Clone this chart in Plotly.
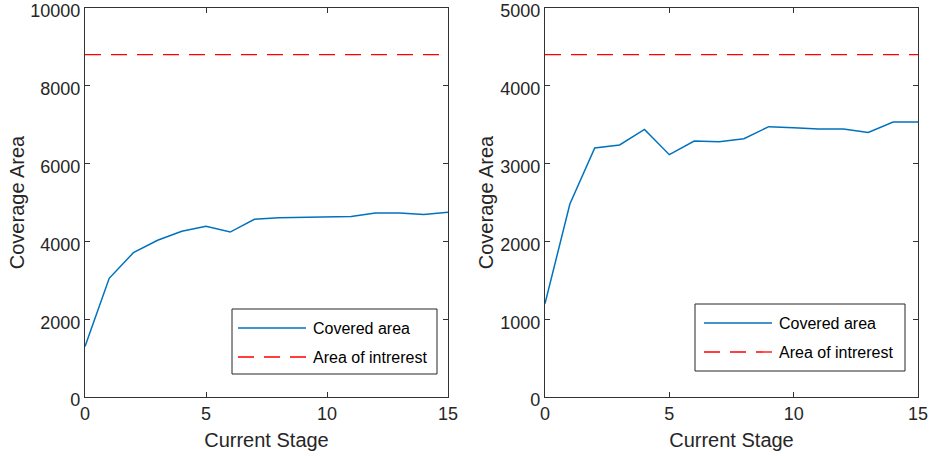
import plotly.graph_objects as go

stages = list(range(16))
left_covered = [1300, 3050, 3710, 4030, 4260, 4390, 4240, 4570, 4610, 4620, 4640, 4640, 4730, 4730, 4690, 4750]
left_aoi = 8800
right_covered = [1200, 2480, 3200, 3240, 3440, 3115, 3290, 3280, 3320, 3475, 3460, 3445, 3445, 3400, 3535, 3535]
right_aoi = 4400

left_yticks = [0, 2000, 4000, 6000, 8000, 10000]
right_yticks = [0, 1000, 2000, 3000, 4000, 5000]
xticks = [0, 5, 10, 15]
legend_names = ["Covered area", "Area of intrerest"]

BLUE = "#0072BD"
RED = "#FF0000"
AX = "#262626"
FONT = "Liberation Sans, Arial, sans-serif"
W, H = 932, 456
DASH = "16px,10px"


def px(x):
    return x / W


def py(y):
    return 1 - y / H


fig = go.Figure()
fig.add_trace(go.Scatter(x=stages, y=left_covered, mode="lines", name=legend_names[0],
                         line=dict(color=BLUE, width=1.5), xaxis="x", yaxis="y"))
fig.add_trace(go.Scatter(x=[stages[0], stages[-1]], y=[left_aoi, left_aoi], mode="lines",
                         name=legend_names[1], line=dict(color=RED, width=1.3, dash=DASH),
                         xaxis="x", yaxis="y"))
fig.add_trace(go.Scatter(x=stages, y=right_covered, mode="lines", name=legend_names[0],
                         line=dict(color=BLUE, width=1.5), xaxis="x2", yaxis="y2"))
fig.add_trace(go.Scatter(x=[stages[0], stages[-1]], y=[right_aoi, right_aoi], mode="lines",
                         name=legend_names[1], line=dict(color=RED, width=1.3, dash=DASH),
                         xaxis="x2", yaxis="y2"))

axis_common = dict(showline=True, linecolor="#333333", linewidth=1.3, mirror="ticks", ticks="inside",
                   ticklen=5, tickcolor="#333333", tickwidth=1, showgrid=False, zeroline=False,
                   automargin=False, ticklabeloverflow="allow",
                   tickfont=dict(family=FONT, size=18, color=AX))
title_font = dict(family=FONT, size=20, color=AX)

# custom legend boxes (pixel layout of the reference)
shapes = []
annotations = []
legend_boxes = [
    dict(x0=232, x1=437, y0=309, y1=374, rows=[328, 357], lx0=238, lx1=306, tx=311),
    dict(x0=695, x1=905, y0=304, y1=371, rows=[323, 352], lx0=704, lx1=772, tx=777),
]
styles = [dict(color=BLUE, width=1.5), dict(color=RED, width=1.3, dash=DASH)]
for b in legend_boxes:
    shapes.append(dict(type="rect", xref="paper", yref="paper",
                       x0=px(b["x0"]), x1=px(b["x1"]), y0=py(b["y1"]), y1=py(b["y0"]),
                       line=dict(color="#262626", width=1), fillcolor="white", layer="above"))
    for name, row, st in zip(legend_names, b["rows"], styles):
        shapes.append(dict(type="line", xref="paper", yref="paper",
                           x0=px(b["lx0"]), x1=px(b["lx1"]), y0=py(row), y1=py(row),
                           line=st, layer="above"))
        annotations.append(dict(text=name, xref="paper", yref="paper", x=px(b["tx"]), y=py(row),
                                xanchor="left", yanchor="middle", showarrow=False,
                                font=dict(family=FONT, size=16, color="#000000")))

yb, yt = py(397), py(8)
fig.update_layout(
    width=W, height=H,
    margin=dict(l=0, r=0, t=0, b=0),
    paper_bgcolor="white", plot_bgcolor="white",
    showlegend=False,
    font=dict(family=FONT, color=AX),
    xaxis=dict(domain=[px(85), px(448)], range=[0, 15.0001], tickvals=xticks,
               ticktext=[str(v) for v in xticks], anchor="y",
               title=dict(text="Current Stage", font=title_font, standoff=10), **axis_common),
    yaxis=dict(domain=[yb, yt], range=[0, 10000.1], tickvals=left_yticks,
               ticktext=[str(v) for v in left_yticks], anchor="x", ticklabelshift=3,
               title=dict(text="Coverage Area", font=title_font, standoff=0), **axis_common),
    xaxis2=dict(domain=[px(545), px(918)], range=[0, 15.0001], tickvals=xticks,
                ticktext=[str(v) for v in xticks], anchor="y2",
                title=dict(text="Current Stage", font=title_font, standoff=10), **axis_common),
    yaxis2=dict(domain=[yb, yt], range=[0, 5000.05], tickvals=right_yticks,
                ticktext=[str(v) for v in right_yticks], anchor="x2", ticklabelshift=3,
                title=dict(text="Coverage Area", font=title_font, standoff=1), **axis_common),
    shapes=shapes,
    annotations=annotations,
)

fig.write_html("out.html")
